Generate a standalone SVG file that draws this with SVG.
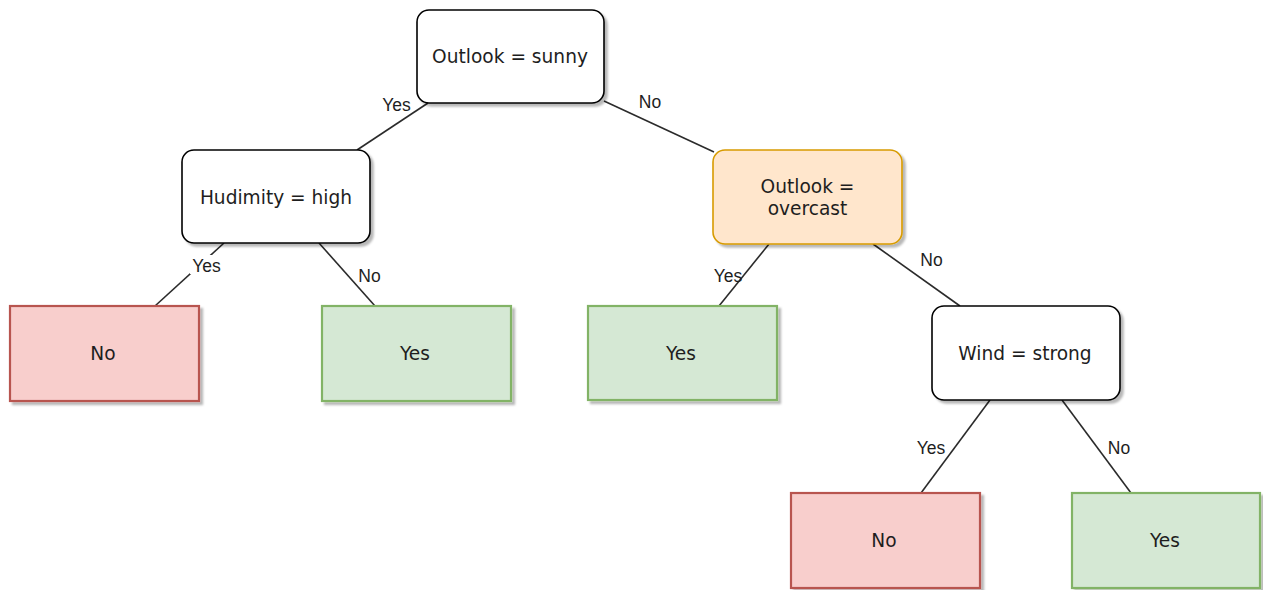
<svg xmlns="http://www.w3.org/2000/svg" width="1263" height="590" viewBox="0 0 1263 590">
  <defs>
    <filter id="shadow" x="-10%" y="-10%" width="125%" height="130%">
      <feDropShadow dx="3" dy="3" stdDeviation="1.2" flood-color="#000" flood-opacity="0.28"/>
    </filter>
  </defs>
  <style>
    .box { filter: url(#shadow); }
    .decision { fill: #ffffff; stroke: #000000; stroke-width: 1.6; }
    .focus { fill: #ffe6cc; stroke: #d79b00; stroke-width: 1.6; }
    .neg { fill: #f8cecc; stroke: #b85450; stroke-width: 2.2; }
    .pos { fill: #d5e8d4; stroke: #82b366; stroke-width: 2.2; }
    .label { font-family: "DejaVu Sans", Verdana, sans-serif; font-size: 18.6px; fill: #1e1e1e; text-anchor: middle; }
    .edge { stroke: #2b2b2b; stroke-width: 1.6; fill: none; }
    .elabel { font-family: "Liberation Sans", Arial, sans-serif; font-size: 17.5px; fill: #1e1e1e; text-anchor: middle; }
    .bg { fill: #ffffff; }
  </style>

  <!-- branches between tests and outcomes -->
  <g id="connectors">
    <line class="edge" x1="428" y1="103" x2="357" y2="150"/>
    <line class="edge" x1="604" y1="101" x2="714" y2="152"/>
    <line class="edge" x1="224" y1="243" x2="155" y2="306"/>
    <line class="edge" x1="319" y1="243" x2="375" y2="306"/>
    <line class="edge" x1="769" y1="244" x2="719" y2="306"/>
    <line class="edge" x1="873" y1="244" x2="960" y2="306"/>
    <line class="edge" x1="990" y1="400" x2="921" y2="493"/>
    <line class="edge" x1="1062" y1="400" x2="1131" y2="493"/>

    <text class="elabel" x="396.5" y="110.5">Yes</text>
    <text class="elabel" x="650" y="107.5">No</text>
    <rect class="bg" x="190" y="255" width="33" height="19"/>
    <text class="elabel" x="206.5" y="271.5">Yes</text>
    <text class="elabel" x="369.5" y="281.5">No</text>
    <text class="elabel" x="728" y="281.5">Yes</text>
    <text class="elabel" x="931.5" y="266">No</text>
    <text class="elabel" x="931" y="454">Yes</text>
    <text class="elabel" x="1119" y="454">No</text>
  </g>

  <g id="outlook-sunny">
    <rect class="box decision" x="417" y="10" width="187" height="93" rx="12"/>
    <text class="label" x="510" y="63">Outlook = sunny</text>
  </g>

  <g id="humidity-high">
    <rect class="box decision" x="182" y="150" width="188" height="93" rx="12"/>
    <text class="label" x="276" y="204">Hudimity = high</text>
  </g>

  <g id="outlook-overcast">
    <rect class="box focus" x="713" y="150" width="189" height="94" rx="12"/>
    <text class="label" x="807.5" y="193">Outlook =</text>
    <text class="label" x="807.5" y="215">overcast</text>
  </g>

  <g id="wind-strong">
    <rect class="box decision" x="932" y="306" width="188" height="94" rx="12"/>
    <text class="label" x="1025" y="360">Wind = strong</text>
  </g>

  <g id="leaf-no-1">
    <rect class="box neg" x="10" y="306" width="189" height="95"/>
    <text class="label" x="103" y="360">No</text>
  </g>

  <g id="leaf-yes-1">
    <rect class="box pos" x="322" y="306" width="189" height="95"/>
    <text class="label" x="415" y="360">Yes</text>
  </g>

  <g id="leaf-yes-2">
    <rect class="box pos" x="588" y="306" width="189" height="94"/>
    <text class="label" x="681" y="360">Yes</text>
  </g>

  <g id="leaf-no-2">
    <rect class="box neg" x="791" y="493" width="189" height="95"/>
    <text class="label" x="884" y="547">No</text>
  </g>

  <g id="leaf-yes-3">
    <rect class="box pos" x="1072" y="493" width="188" height="95"/>
    <text class="label" x="1165" y="547">Yes</text>
  </g>
</svg>
